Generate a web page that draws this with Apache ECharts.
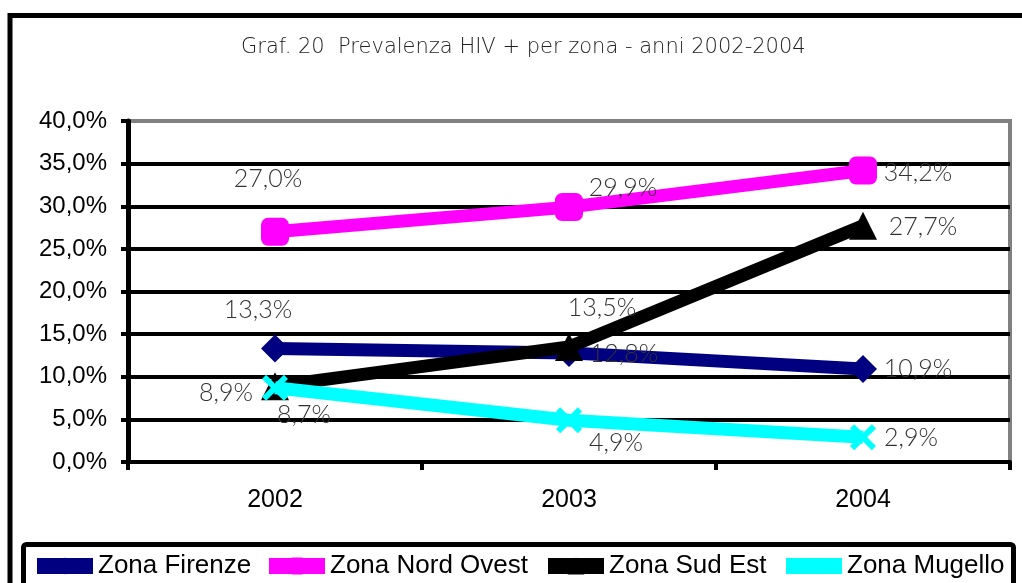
<!DOCTYPE html>
<html>
<head>
<meta charset="utf-8">
<script src="https://cdn.jsdelivr.net/npm/echarts@6/dist/echarts.min.js"></script>
<style>
html,body{margin:0;padding:0;background:#fff;}
#chart{width:1022px;height:583px;}
</style>
</head>
<body>
<div id="chart"></div>
<script>
// ---- data ----
const years = ['2002', '2003', '2004'];
const seriesNames = ['Zona Firenze', 'Zona Nord Ovest', 'Zona Sud Est', 'Zona Mugello'];
const firenze = [13.3, 12.8, 10.9];
const nordOvest = [27.0, 29.9, 34.2];
const sudEst = [8.9, 13.5, 27.7];
const mugello = [8.7, 4.9, 2.9];
const yTicks = [0, 5, 10, 15, 20, 25, 30, 35, 40];
const titleText = 'Graf. 20  Prevalenza HIV + per zona - anni 2002-2004';

// ---- layout / style ----
const colors = ['#000080', '#FF00FF', '#000000', '#00FFFF'];
const crossPath = 'path://M0,1.6 L1.6,0 L5,3.4 L8.4,0 L10,1.6 L6.6,5 L10,8.4 L8.4,10 L5,6.6 L1.6,10 L0,8.4 L3.4,5 Z';
const symbols = ['diamond', 'roundRect', 'triangle', crossPath];
const symbolSizes = [28, 28, 28, 26];
const labelOffsets = [
  [[-17, -39], [55, 1], [55, 0]],
  [[-7, -53], [54, -19], [55, 2]],
  [[-49, 7], [33, -39], [60, 1]],
  [[29, 27], [47, 23], [48, 1]]
];
const legendLefts = [29, 261, 540, 778];
const allValues = [firenze, nordOvest, sudEst, mugello];

function fmt(v) { return v.toFixed(1).replace('.', ',') + '%'; }

const chart = echarts.init(document.getElementById('chart'), null, { renderer: 'canvas' });

const series = allValues.map((vals, si) => ({
  name: seriesNames[si],
  type: 'line',
  symbol: symbols[si],
  symbolSize: symbolSizes[si],
  lineStyle: { color: colors[si], width: 13 },
  itemStyle: { color: colors[si] },
  z: 3 + si,
  data: vals.map((v, i) => ({
    value: v,
    label: { offset: labelOffsets[si][i] }
  })),
  label: {
    show: true,
    position: 'inside',
    align: 'center',
    verticalAlign: 'middle',
    formatter: p => fmt(p.value),
    fontFamily: 'Lato',
    fontWeight: 300,
    fontSize: 25,
    color: '#333'
  },
  emphasis: { disabled: true },
  animation: false
}));

const legends = seriesNames.map((n, i) => ({
  data: [n],
  left: legendLefts[i],
  top: 553,
  padding: 0,
  itemWidth: 56,
  itemHeight: 21,
  lineStyle: { width: 16 },
  textStyle: { fontFamily: 'Liberation Sans', fontSize: 26, color: '#000' },
  selectedMode: false
}));

const splitColors = yTicks.map((t, i) => i === yTicks.length - 1 ? '#808080' : '#000000');

chart.setOption({
  animation: false,
  backgroundColor: '#fff',
  title: {
    text: titleText,
    left: 241,
    top: 37,
    padding: 0,
    textStyle: { fontFamily: 'DejaVu Sans', fontWeight: 200, fontSize: 21, color: '#222' }
  },
  legend: legends,
  grid: {
    left: 128,
    right: 12,
    top: 121,
    bottom: 121,
    show: true,
    borderColor: '#808080',
    borderWidth: 4,
    containLabel: false
  },
  xAxis: {
    type: 'category',
    data: years,
    boundaryGap: true,
    axisLine: { show: true, lineStyle: { color: '#000', width: 4 } },
    axisTick: { show: true, alignWithLabel: false, length: 8, lineStyle: { color: '#000', width: 4 } },
    axisLabel: { margin: 26, fontFamily: 'Liberation Sans', fontSize: 25, color: '#000' },
    splitLine: { show: false }
  },
  yAxis: {
    type: 'value',
    min: yTicks[0],
    max: yTicks[yTicks.length - 1],
    interval: 5,
    axisLine: { show: true, lineStyle: { color: '#000', width: 5 } },
    axisTick: { show: true, length: 7, lineStyle: { color: '#000', width: 4 } },
    axisLabel: { margin: 21, fontFamily: 'Liberation Sans', fontSize: 24, color: '#000', formatter: v => fmt(v) },
    splitLine: { show: true, lineStyle: { color: splitColors, width: 4 } }
  },
  graphic: [
    { type: 'rect', shape: { x: 10, y: 15.5, width: 1100, height: 700 }, style: { fill: 'none', stroke: '#000', lineWidth: 5 }, z: 0 },
    { type: 'rect', shape: { x: 23.5, y: 544.5, width: 990, height: 100, r: 3 }, style: { fill: 'none', stroke: '#000', lineWidth: 5 }, z: 0 }
  ],
  series: series
});
</script>
</body>
</html>
